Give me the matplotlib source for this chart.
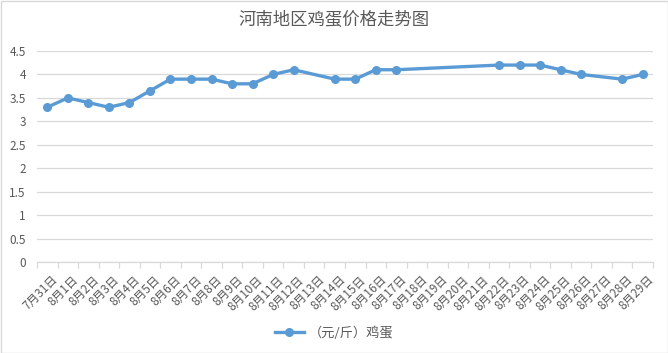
import matplotlib.pyplot as plt
import matplotlib.transforms as mtransforms
from matplotlib.patches import Rectangle

plt.rcParams['font.family'] = ['Noto Sans CJK SC', 'DejaVu Sans']

# categories shown on the x axis
dates = ['7月31日'] + ['8月%d日' % d for d in range(1, 30)]

# dates that have a price, and the price (元/斤)
price_dates = ['7月31日', '8月1日', '8月2日', '8月3日', '8月4日', '8月5日', '8月6日',
               '8月7日', '8月8日', '8月9日', '8月10日', '8月11日', '8月12日',
               '8月14日', '8月15日', '8月16日', '8月17日',
               '8月22日', '8月23日', '8月24日', '8月25日', '8月26日',
               '8月28日', '8月29日']
prices = [3.3, 3.5, 3.4, 3.3, 3.4, 3.65, 3.9,
          3.9, 3.9, 3.8, 3.8, 4.0, 4.1,
          3.9, 3.9, 4.1, 4.1,
          4.2, 4.2, 4.2, 4.1, 4.0,
          3.9, 4.0]

yticks = [0, 0.5, 1, 1.5, 2, 2.5, 3, 3.5, 4, 4.5]
ytick_labels = ['0', '0.5', '1', '1.5', '2', '2.5', '3', '3.5', '4', '4.5']

W, H = 668, 353
fig = plt.figure(figsize=(W / 100, H / 100), dpi=100)
ax = fig.add_axes([37 / W, 1 - 262 / H, (653 - 37) / W, (262 - 51) / H])

xs = [dates.index(d) for d in price_dates]
line_col = '#5B9BD5'
txt_col = '#595959'
grid_col = '#D9D9D9'

ax.plot(xs, prices, color=line_col, lw=2.4, marker='o', ms=5.5,
        label='（元/斤）鸡蛋', solid_joinstyle='round')

ax.set_xlim(-0.5, len(dates) - 0.5)
ax.set_ylim(0, 4.5)
ax.set_yticks(yticks)
ax.set_yticklabels(ytick_labels)
ax.grid(axis='y', color=grid_col, lw=0.9)
ax.set_axisbelow(True)

ax.set_xticks(range(len(dates)))
ax.set_xticklabels(dates, rotation=45, ha='right', rotation_mode='anchor')
ax.set_xticks([i - 0.5 for i in range(len(dates) + 1)], minor=True)
ax.tick_params(axis='x', which='major', length=0, pad=8, labelsize=8.5, labelcolor=txt_col)
ax.tick_params(axis='x', which='minor', length=4, color=grid_col, width=0.9)
ax.tick_params(axis='y', length=0, pad=8, labelsize=8.5, labelcolor=txt_col)

# nudge the rotated labels a little to the right, like the original
shift = mtransforms.ScaledTranslation(4 / 100, 0, fig.dpi_scale_trans)
for lbl in ax.get_xticklabels():
    lbl.set_transform(lbl.get_transform() + shift)

for s in ['top', 'right', 'left']:
    ax.spines[s].set_visible(False)
ax.spines['bottom'].set_color(grid_col)
ax.spines['bottom'].set_linewidth(0.9)

fig.text(0.5, 1 - 20 / H, '河南地区鸡蛋价格走势图', ha='center', va='center',
         fontsize=12.5, color=txt_col)

fig.legend(loc='center', bbox_to_anchor=(0.5, 1 - 333 / H), frameon=False,
           fontsize=9.5, labelcolor=txt_col, handlelength=2.2, handletextpad=0.4)

fig.patches.append(Rectangle((0.5 / W, 0.5 / H), 1 - 1 / W, 1 - 1 / H,
                             transform=fig.transFigure, fill=False,
                             edgecolor=grid_col, lw=1))

fig.savefig('out.png', dpi=100)
